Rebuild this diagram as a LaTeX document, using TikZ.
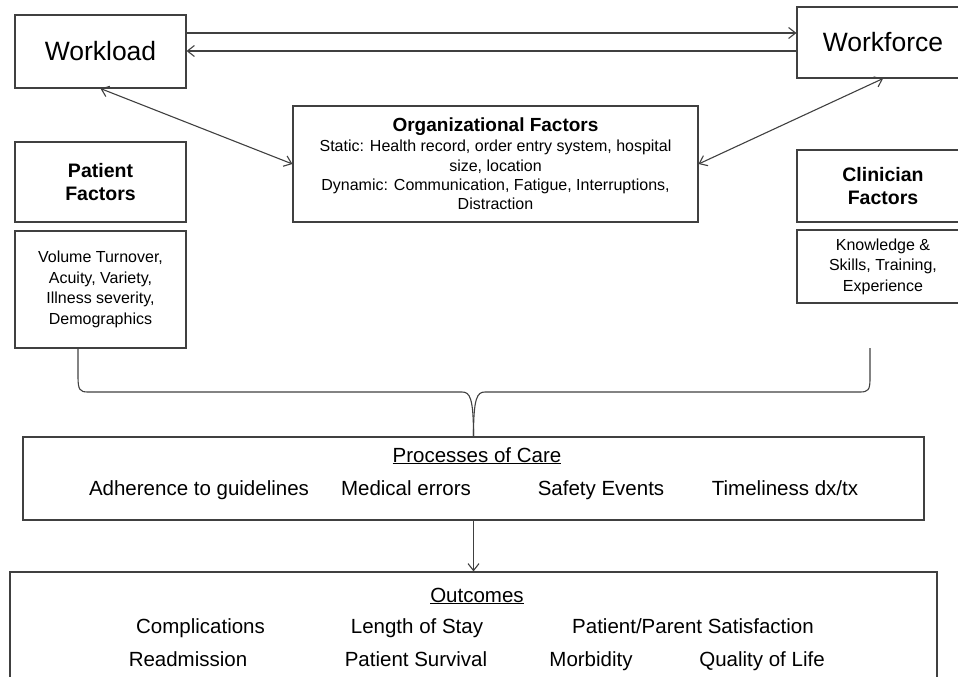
\documentclass[tikz,border=0pt]{standalone}
\usepackage{fontspec}
\setmainfont{Liberation Sans}
\usetikzlibrary{arrows.meta}

\newcommand{\fsz}[2]{\fontsize{#1}{#2}\selectfont}

\begin{document}
\begin{tikzpicture}[x=1pt,y=-1pt,>={Straight Barb[length=7pt,width=11pt]},
                    frame/.style={rectangle,draw=black!75,line width=1.1pt,inner sep=0pt,align=center},
                    big/.style={font=\fsz{26.5}{30}},
                    head/.style={font=\bfseries\fsz{19.5}{23.5}},
                    small/.style={font=\fsz{16}{20.5}},
                    item/.style={font=\fsz{20.5}{24},inner sep=0pt,anchor=base},
                    conn/.style={draw=black!75,line width=1.1pt}]

  \useasboundingbox (0,0) rectangle (958,677);
  \clip (0,0) rectangle (958,677);

  % top row
  \node[frame,big,minimum width=171pt,minimum height=73pt] (load) at (100.5,51.5) {Workload};
  \node[frame,big,minimum width=172pt,minimum height=71pt] (force) at (883,42.5) {Workforce};

  % factor boxes
  \node[frame,head,minimum width=171pt,minimum height=80pt] (pfac) at (100.5,182) {Patient\\Factors};
  \node[frame,small,minimum width=171pt,minimum height=117pt] (pdet) at (100.5,289.5)
    {Volume Turnover,\\Acuity, Variety,\\Illness severity,\\Demographics};
  \node[frame,head,minimum width=172pt,minimum height=72pt] (cfac) at (883,186) {Clinician\\Factors};
  \node[frame,small,minimum width=172pt,minimum height=73pt] (cdet) at (883,266.5)
    {Knowledge \&\\Skills, Training,\\Experience};
  \node[frame,font=\fsz{16}{19.3},minimum width=405pt,minimum height=116pt] (org) at (495.5,164)
    {{\bfseries\fsz{19}{22}Organizational Factors}\\[0.7pt]
     Static: Health record, order entry system, hospital\\ size, location\\
     Dynamic: Communication, Fatigue, Interruptions,\\ Distraction};

  % processes and outcomes
  \node[frame,minimum width=901pt,minimum height=83pt] (care) at (473.5,478.5) {};
  \node[item] (caret) at (477,462) {\underline{Processes of Care}};
  \node[item] (adh) at (199,495) {Adherence to guidelines};
  \node[item] (err) at (406,495) {Medical errors};
  \node[item] (safe) at (601,495) {Safety Events};
  \node[item] (time) at (785,495) {Timeliness dx/tx};

  \node[frame,minimum width=927pt,minimum height=128pt] (out) at (473.5,636) {};
  \node[item] (outt) at (477,602) {\underline{Outcomes}};
  \node[item] (comp) at (200.5,633) {Complications};
  \node[item] (los) at (417,633) {Length of Stay};
  \node[item] (sat) at (693,633) {Patient/Parent Satisfaction};
  \node[item] (readm) at (188,666) {Readmission};
  \node[item] (surv) at (416,666) {Patient Survival};
  \node[item] (morb) at (591,666) {Morbidity};
  \node[item] (qol) at (762,666) {Quality of Life};

  % brace ends
  \coordinate (bl) at (78,348);
  \coordinate (br) at (870,348);

  \path[every edge/.style={conn}]
    ([yshift=18.5pt]load.east) edge[->] ([yshift=9.5pt]force.west)
    ([yshift=-8.5pt]force.west) edge[->] ([yshift=0.5pt]load.east)
    (load.south) edge[<->] (org.west)
    (force.south) edge[<->] (org.east)
    (care.south) edge[->] (out.north);

  \draw[conn] (bl) -- (78,377) .. controls (78,390) and (80,392) .. (88,392) -- (462,392)
    .. controls (470,392) and (473.5,398) .. (care.north);
  \draw[conn] (br) -- (870,379) .. controls (870,390) and (868,392) .. (860,392) -- (485,392)
    .. controls (477,392) and (473.5,398) .. (care.north);
\end{tikzpicture}
\end{document}
